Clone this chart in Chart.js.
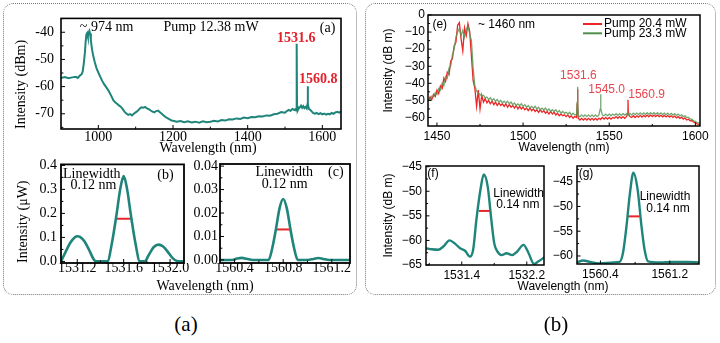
<!DOCTYPE html>
<html>
<head>
<meta charset="utf-8">
<script src="https://cdn.jsdelivr.net/npm/chart.js@4.4.1/dist/chart.umd.min.js"></script>
<style>
  html, body { margin: 0; padding: 0; background: #fff; }
  #fig { position: relative; width: 720px; height: 343px; overflow: hidden; background: #fff; }
  canvas { position: absolute; }
  .box { position: absolute; border: 1px dotted #7a7a7a; border-radius: 10px; box-sizing: border-box; }
  .lbl { position: absolute; white-space: nowrap; transform: translate(-50%, -50%); line-height: 1; color: #000; }
  .serif { font-family: "Liberation Serif", "Times New Roman", serif; }
  .sans { font-family: "Liberation Sans", Arial, sans-serif; }
</style>
</head>
<body>
<div id="fig">
  <div class="box" style="left:3px;top:3px;width:354px;height:292px"></div>
  <div class="box" style="left:365px;top:3px;width:351px;height:292px"></div>
  <canvas id="chartA"></canvas>
  <canvas id="chartB"></canvas>
  <canvas id="chartC"></canvas>
  <canvas id="chartE"></canvas>
  <canvas id="chartF"></canvas>
  <canvas id="chartG"></canvas>
  <div class="lbl serif" style="left:208px;top:148px;font-size:14px">Wavelength (nm)</div>
  <div class="lbl serif" style="left:205px;top:286px;font-size:14px">Wavelength (nm)</div>
  <div class="lbl sans" style="left:564px;top:147px;font-size:12px">Wavelength (nm)</div>
  <div class="lbl sans" style="left:563px;top:286px;font-size:12px">Wavelength (nm)</div>
  <div class="lbl serif" style="left:186px;top:324px;font-size:21px">(a)</div>
  <div class="lbl serif" style="left:556px;top:324px;font-size:21px">(b)</div>
</div>
<script>
// ---- (a) broadband spectrum, pump 12.38 mW ----
const aWave = [900, 910, 920, 930, 940, 945, 950, 955, 958, 961, 964, 966, 968, 970, 972, 974, 976, 978, 980, 983,
  986, 990, 995, 1000, 1005, 1010, 1015, 1020, 1025, 1030, 1035, 1040, 1045, 1050, 1055, 1060, 1065, 1070, 1075, 1080,
  1085, 1090, 1095, 1100, 1105, 1110, 1115, 1120, 1125, 1130, 1135, 1140, 1145, 1150, 1155, 1160, 1165, 1170, 1175, 1180,
  1185, 1190, 1195, 1200, 1210, 1220, 1230, 1240, 1250, 1260, 1270, 1280, 1290, 1300, 1310, 1320, 1330, 1340, 1350, 1360,
  1370, 1380, 1390, 1400, 1410, 1420, 1430, 1440, 1450, 1460, 1470, 1480, 1490, 1500, 1505, 1510, 1515, 1520, 1525, 1528,
  1530, 1531, 1531.6, 1532.2, 1534, 1537, 1540, 1543, 1546, 1549, 1552, 1555, 1558, 1560, 1560.8, 1561.6, 1564, 1568, 1572, 1576,
  1580, 1585, 1590, 1595, 1600, 1605, 1610, 1615, 1620, 1625, 1630, 1635, 1640, 1645, 1650];
const aPower = [-56.8, -56.5, -56.9, -56.6, -56.4, -56.8, -56.0, -55.5, -54.5, -51.5, -47.5, -43.5, -40.8, -40.3, -41.6, -40.2, -39.5, -40.5, -43.0, -46.2,
  -48.5, -50.8, -53.2, -54.8, -56.3, -57.8, -59.0, -60.0, -61.0, -62.2, -63.5, -65.0, -65.8, -66.3, -66.9, -67.4, -68.2, -69.2, -69.9, -70.4,
  -70.1, -70.6, -70.0, -69.5, -69.0, -68.2, -67.6, -67.8, -67.5, -68.0, -68.3, -68.8, -69.2, -69.5, -69.0, -68.8, -69.4, -70.0, -70.6, -71.2,
  -71.6, -72.0, -72.4, -72.6, -72.9, -72.7, -73.1, -72.8, -73.2, -72.9, -73.3, -72.8, -73.1, -72.9, -72.6, -72.8, -72.3, -72.5, -72.0, -72.1,
  -71.7, -71.9, -71.4, -71.6, -71.2, -71.3, -70.9, -71.0, -70.6, -70.7, -70.2, -70.0, -69.4, -69.6, -69.0, -68.6, -68.9, -68.2, -68.6, -68.3,
  -68.8, -67.0, -44.2, -67.0, -68.8, -68.0, -67.6, -67.0, -67.8, -67.2, -67.9, -67.5, -68.0, -66.5, -59.9, -66.5, -68.2, -68.6, -69.2, -69.8,
  -70.0, -69.7, -70.1, -69.8, -70.2, -69.9, -70.3, -70.0, -70.2, -69.7, -70.0, -69.5, -69.3, -69.6, -69.1];
const aPeaks = ['1531.6', '1560.8'];
const aTickX = [1000, 1200, 1400, 1600];
const aTickLabelX = ['1000', '1200', '1400', '1600'];
const aTickY = [-70, -60, -50, -40];
const aTickLabelY = ['-70', '-60', '-50', '-40'];

// ---- (b) zoom on the 1531.6 nm line ----
const bWave = [1531.06, 1531.1, 1531.14, 1531.18, 1531.2, 1531.22, 1531.26, 1531.3, 1531.34, 1531.36, 1531.4, 1531.44,
  1531.46, 1531.5, 1531.54, 1531.57, 1531.6, 1531.63, 1531.66, 1531.7, 1531.74, 1531.76, 1531.78, 1531.82,
  1531.86, 1531.9, 1531.94, 1531.98, 1532.02, 1532.06, 1532.12];
const bPower = [0.0, 0.04, 0.078, 0.101, 0.105, 0.103, 0.085, 0.05, 0.01, 0.0, 0.0, 0.0,
  0.0, 0.08, 0.2, 0.3, 0.355, 0.3, 0.2, 0.08, 0.0, 0.0, 0.0, 0.03,
  0.06, 0.07, 0.062, 0.04, 0.015, 0.002, 0.0];
const bPeak = 1531.6;
const bPeakPower = 0.355;
const bLinewidth = 0.12;
const bTickX = [1531.2, 1531.6, 1532.0];
const bTickLabelX = ['1531.2', '1531.6', '1532.0'];
const bTickY = [0, 0.1, 0.2, 0.3, 0.4];
const bTickLabelY = ['0.0', '0.1', '0.2', '0.3', '0.4'];

// ---- (c) zoom on the 1560.8 nm line ----
const cWave = [1560.28, 1560.38, 1560.42, 1560.46, 1560.5, 1560.55, 1560.66, 1560.68, 1560.71, 1560.74, 1560.77,
  1560.8, 1560.83, 1560.86, 1560.89, 1560.92, 1561.0, 1561.05, 1561.09, 1561.13, 1561.18, 1561.35];
const cPower = [0, 0, 0.0006, 0.0009, 0.0005, 0, 0, 0, 0.005, 0.013, 0.022,
  0.026, 0.022, 0.013, 0.005, 0, 0, 0.0004, 0.0008, 0.0004, 0, 0];
const cPeak = 1560.8;
const cPeakPower = 0.026;
const cLinewidth = 0.12;
const cTickX = [1560.4, 1560.8, 1561.2];
const cTickLabelX = ['1560.4', '1560.8', '1561.2'];
const cTickY = [0, 0.01, 0.02, 0.03, 0.04];
const cTickLabelY = ['0.00', '0.01', '0.02', '0.03', '0.04'];

// ---- (e) spectra at two pump powers ----
const eWave = [1445, 1446, 1447, 1448, 1449, 1450, 1451, 1452, 1453, 1454, 1455, 1456, 1457, 1458, 1459, 1460, 1461, 1462, 1463, 1464,
  1465, 1466, 1467, 1468, 1469, 1470, 1471, 1472, 1473, 1474, 1475, 1476, 1477, 1478, 1479, 1480, 1481, 1482, 1483, 1484,
  1485, 1486, 1487, 1488, 1489, 1490, 1491, 1492, 1493, 1494, 1495, 1496, 1497, 1498, 1499, 1500, 1501, 1502, 1503, 1504,
  1505, 1506, 1507, 1508, 1509, 1510, 1511, 1512, 1513, 1514, 1515, 1516, 1517, 1518, 1519, 1520, 1521, 1522, 1523, 1524,
  1525, 1526, 1527, 1528, 1529, 1530, 1531, 1531.4, 1531.6, 1531.8, 1532, 1533, 1534, 1535, 1536, 1537, 1538, 1539, 1540, 1541,
  1542, 1543, 1544, 1544.8, 1545, 1545.2, 1546, 1547, 1548, 1549, 1550, 1551, 1552, 1553, 1554, 1555, 1556, 1557, 1558, 1559,
  1560, 1560.7, 1560.9, 1561.1, 1562, 1563, 1564, 1565, 1566, 1567, 1568, 1569, 1570, 1571, 1572, 1573, 1574, 1575, 1576, 1577,
  1578, 1579, 1580, 1581, 1582, 1583, 1584, 1585, 1586, 1587, 1588, 1589, 1590, 1591, 1592, 1593, 1594, 1595, 1596, 1597,
  1598, 1599, 1600, 1601, 1602, 1603];
const eRed = [-50.5, -48.0, -49.5, -46.5, -47.8, -44.0, -46.0, -41.5, -43.0, -37.0, -39.0, -33.5, -35.0, -27.0, -25.5, -18.0, -16.0, -6.0, -4.5, -14.0,
  -21.0, -7.5, -12.0, -5.0, -9.5, -24.0, -38.5, -43.0, -53.5, -44.0, -55.0, -47.0, -51.0, -49.0, -51.5, -50.0, -52.0, -50.5, -52.5, -51.0,
  -53.0, -51.5, -53.0, -52.0, -53.5, -52.0, -54.0, -52.5, -54.0, -53.0, -54.5, -53.0, -55.0, -53.5, -55.0, -54.0, -55.5, -54.5, -56.0, -54.5,
  -56.0, -55.0, -56.5, -55.5, -57.0, -55.5, -57.0, -56.0, -57.5, -56.5, -58.0, -56.5, -58.0, -57.0, -58.5, -57.5, -59.0, -58.0, -59.0, -58.5,
  -59.5, -58.5, -60.0, -59.0, -60.5, -59.5, -60.0, -52.0, -43.5, -52.0, -60.5, -61.5, -60.5, -61.5, -60.5, -61.5, -60.5, -61.5, -60.5, -61.5,
  -60.5, -61.5, -60.5, -61.0, -60.5, -61.0, -60.0, -61.0, -60.0, -61.0, -60.0, -61.0, -60.0, -60.5, -59.5, -60.5, -59.5, -60.5, -59.5, -60.5,
  -59.5, -58.0, -49.7, -58.0, -59.5, -60.0, -59.0, -60.0, -59.0, -59.8, -58.8, -59.8, -58.8, -59.6, -58.6, -59.6, -58.6, -59.5, -58.6, -59.5,
  -58.6, -59.5, -58.7, -59.6, -58.8, -59.7, -58.9, -59.8, -59.0, -60.0, -59.2, -60.2, -59.5, -60.5, -59.8, -61.0, -60.3, -61.5, -61.0, -62.0,
  -61.8, -62.8, -63.0, -63.8, -64.0, -64.3];
const eGreen = [-49.0, -50.0, -47.5, -48.0, -45.5, -46.5, -43.0, -44.0, -40.0, -41.5, -36.0, -37.0, -31.0, -30.0, -23.0, -20.0, -13.0, -10.0, -8.0, -12.0,
  -9.0, -13.0, -8.5, -6.5, -11.0, -15.0, -31.0, -41.5, -44.5, -46.0, -46.5, -47.5, -47.0, -48.5, -48.0, -49.5, -48.5, -50.0, -49.0, -50.5,
  -49.5, -51.0, -50.0, -51.5, -50.5, -51.5, -50.5, -52.0, -51.0, -52.5, -51.5, -53.0, -52.0, -53.0, -52.0, -53.5, -52.5, -54.0, -53.0, -54.5,
  -53.5, -54.5, -53.5, -55.0, -54.0, -55.5, -54.5, -55.5, -54.5, -56.0, -55.0, -56.5, -55.5, -56.5, -55.5, -57.0, -56.0, -57.5, -56.5, -57.5,
  -57.0, -58.0, -57.0, -58.5, -57.5, -58.5, -58.5, -51.0, -42.0, -51.0, -59.0, -59.5, -58.5, -59.5, -58.5, -59.5, -58.5, -59.5, -58.5, -59.5,
  -58.5, -59.5, -58.5, -55.0, -46.4, -55.0, -58.5, -59.0, -58.0, -59.0, -58.0, -59.0, -58.0, -58.8, -57.8, -58.8, -57.8, -58.8, -57.8, -58.6,
  -57.8, -58.5, -57.8, -58.5, -57.6, -58.5, -57.5, -58.4, -57.4, -58.3, -57.3, -58.2, -57.3, -58.2, -57.2, -58.2, -57.2, -58.1, -57.2, -58.1,
  -57.2, -58.2, -57.3, -58.3, -57.4, -58.4, -57.5, -58.5, -57.6, -58.6, -57.8, -58.8, -58.0, -59.0, -58.4, -59.5, -59.0, -60.0, -60.0, -61.0,
  -61.0, -62.0, -62.3, -63.0, -63.2, -63.5];
const eSeries = ['Pump 20.4 mW', 'Pump 23.3 mW'];
const ePeaks = ['1531.6', '1545.0', '1560.9'];
const eTickX = [1450, 1500, 1550, 1600];
const eTickLabelX = ['1450', '1500', '1550', '1600'];
const eTickY = [-60, -50, -40, -30, -20, -10, 0];
const eTickLabelY = ['\u221260', '\u221250', '\u221240', '\u221230', '\u221220', '\u221210', '0'];

// ---- (f) line near 1531.6 nm, log scale ----
const fWave = [1530.96, 1531.03, 1531.11, 1531.17, 1531.25, 1531.32, 1531.38, 1531.44, 1531.5, 1531.54, 1531.58, 1531.63,
  1531.67, 1531.72, 1531.76, 1531.8, 1531.84, 1531.89, 1531.95, 1532.02, 1532.08, 1532.16, 1532.22, 1532.29, 1532.34, 1532.42];
const fPower = [-61.6, -61.8, -61.9, -61.3, -60.0, -60.7, -61.6, -62.1, -63.3, -61.9, -55.8, -49.7,
  -46.6, -49.1, -55.2, -60.6, -62.3, -63.0, -62.6, -63.0, -62.3, -60.9, -62.5, -64.8, -64.3, -63.4];
const fPeak = 1531.68;
const fHalfLevel = -54;
const fLinewidth = 0.14;
const fTickX = [1531.4, 1532.2];
const fTickLabelX = ['1531.4', '1532.2'];
const fTickY = [-65, -60, -55, -50, -45];
const fTickLabelY = ['\u221265', '\u221260', '\u221255', '\u221250', '\u221245'];

// ---- (g) line near 1560.9 nm, log scale ----
const gWave = [1560.13, 1560.2, 1560.28, 1560.39, 1560.55, 1560.62, 1560.66, 1560.7, 1560.74, 1560.78, 1560.83,
  1560.87, 1560.91, 1560.95, 1561.08, 1561.24, 1561.39, 1561.54];
const gPower = [-61.3, -60.9, -61.2, -61.5, -61.3, -61.2, -59.4, -54.1, -47.4, -43.2, -46.7,
  -53.4, -58.8, -61.1, -61.3, -61.2, -61.2, -61.3];
const gPeak = 1560.785;
const gHalfLevel = -52;
const gLinewidth = 0.14;
const gTickX = [1560.4, 1561.2];
const gTickLabelX = ['1560.4', '1561.2'];
const gTickY = [-60, -55, -50, -45];
const gTickLabelY = ['\u221260', '\u221255', '\u221250', '\u221245'];

// ---- styling ----
const TEAL = '#1f857b';
const RED = '#e8252b';
const RED_TEXT = '#e3222c';
const RED_TEXT_LIGHT = '#e8464e';
const SERIF = '"Liberation Serif", "Times New Roman", serif';
const SANS = '"Liberation Sans", Arial, sans-serif';

function pts(xs, ys) { return xs.map((x, i) => ({ x: x, y: ys[i] })); }
function fwhmSegment(center, width, level) {
  return [{ x: center - width / 2, y: level }, { x: center + width / 2, y: level }];
}

function inwardTicks(ctx, a, scale, horizontal, len) {
  const vals = scale.ticks.map(t => t.value);
  const marks = vals.map(v => [v, len]);
  if (vals.length > 1) {
    const step = vals[1] - vals[0];
    for (let k = -1; k < vals.length; k++) {
      const v = vals[0] + step * (k + 0.5);
      if (v > scale.min && v < scale.max) marks.push([v, len * 0.6]);
    }
  }
  for (const [v, l] of marks) {
    const p = scale.getPixelForValue(v);
    ctx.beginPath();
    if (horizontal) { ctx.moveTo(p, a.bottom); ctx.lineTo(p, a.bottom - l); }
    else { ctx.moveTo(a.left, p); ctx.lineTo(a.left + l, p); }
    ctx.stroke();
  }
}

function panelPlugin(spec) {
  return {
    id: 'panel',
    afterDatasetsDraw(chart) {
      const { ctx, chartArea: a } = chart;
      const x = chart.scales.x, y = chart.scales.y;
      ctx.save();
      ctx.strokeStyle = '#000';
      ctx.lineWidth = 1;
      inwardTicks(ctx, a, x, true, spec.tickLen);
      inwardTicks(ctx, a, y, false, spec.tickLen);
      ctx.lineWidth = spec.frame;
      ctx.strokeRect(a.left, a.top, a.right - a.left, a.bottom - a.top);
      ctx.textBaseline = 'middle';
      for (const n of spec.notes) {
        ctx.font = n.font;
        ctx.fillStyle = n.color || '#000';
        ctx.textAlign = n.align || 'center';
        ctx.fillText(n.text, x.getPixelForValue(n.x), y.getPixelForValue(n.y));
      }
      if (spec.legend) {
        const L = spec.legend;
        chart.data.datasets.forEach((ds, i) => {
          if (!ds.label) return;
          const yy = a.top + L.top + i * L.gap;
          ctx.strokeStyle = ds.legendColor || ds.borderColor;
          ctx.lineWidth = 2;
          ctx.beginPath();
          ctx.moveTo(a.right - L.lineFrom, yy);
          ctx.lineTo(a.right - L.lineTo, yy);
          ctx.stroke();
          ctx.fillStyle = '#000';
          ctx.font = L.font;
          ctx.textAlign = 'left';
          ctx.fillText(ds.label, a.right - L.textAt, yy);
        });
      }
      ctx.restore();
    }
  };
}

function buildChart(id, spec) {
  const g = spec.box;
  const W = (g.R - g.L) + g.yw + g.pr;
  const H = (g.B - g.T) + g.pt + g.xh;
  const canvas = document.getElementById(id);
  canvas.width = W; canvas.height = H;
  canvas.style.left = (g.L - g.yw) + 'px';
  canvas.style.top = (g.T - g.pt) + 'px';
  canvas.style.width = W + 'px';
  canvas.style.height = H + 'px';
  const tickFont = { family: spec.family, size: spec.fontSize };
  const titleLH = spec.fontSize * 1.2;
  const yTitle = spec.yTitle
    ? { display: true, text: spec.yTitle, color: '#000', align: spec.yTitleAlign || 'center',
        font: { family: spec.family, size: spec.fontSize },
        padding: { top: spec.yTitleX - (g.L - g.yw) - titleLH / 2, bottom: 0 } }
    : { display: false };
  return new Chart(canvas, {
    type: 'line',
    data: { datasets: spec.datasets },
    options: {
      responsive: false,
      animation: false,
      events: [],
      devicePixelRatio: 1,
      layout: { padding: { top: g.pt, right: g.pr, left: 0, bottom: 0 } },
      elements: { point: { radius: 0 } },
      plugins: { legend: { display: false }, tooltip: { enabled: false } },
      scales: {
        x: {
          type: 'linear', min: spec.xRange[0], max: spec.xRange[1], bounds: 'data',
          grid: { display: false, drawTicks: false }, border: { display: false },
          afterBuildTicks: s => { s.ticks = spec.xTicks.map(v => ({ value: v })); },
          afterFit: s => { s.height = g.xh; },
          ticks: { autoSkip: false, maxRotation: 0, minRotation: 0, padding: spec.xPad, color: '#000',
                   font: tickFont, callback: (v, i) => spec.xLabels[i] },
          title: { display: false }
        },
        y: {
          type: 'linear', min: spec.yRange[0], max: spec.yRange[1], bounds: 'data',
          grid: { display: false, drawTicks: false }, border: { display: false },
          afterBuildTicks: s => { s.ticks = spec.yTicks.map(v => ({ value: v })); },
          afterFit: s => { s.width = g.yw; },
          ticks: { autoSkip: false, padding: spec.yPad, color: '#000',
                   font: tickFont, callback: (v, i) => spec.yLabels[i] },
          title: yTitle
        }
      }
    },
    plugins: [panelPlugin(spec)]
  });
}

const serif14 = '14px ' + SERIF;
const serifBold14 = 'bold 14px ' + SERIF;
const sans12 = '12px ' + SANS;

// (a)
buildChart('chartA', {
  box: { L: 61, T: 15, R: 341, B: 129, yw: 58, xh: 22, pt: 12, pr: 14 },
  family: SERIF, fontSize: 14, xPad: 0, yPad: 7, tickLen: 4, frame: 1.6,
  xRange: [900, 1650], yRange: [-75.6, -34.9],
  xTicks: aTickX, xLabels: aTickLabelX, yTicks: aTickY, yLabels: aTickLabelY,
  yTitle: 'Intensity (dBm)', yTitleX: 21.5, yTitleAlign: 'start',
  datasets: [{ data: pts(aWave, aPower), borderColor: TEAL, borderWidth: 2, tension: 0 }],
  notes: [
    { text: '~ 974 nm', x: 1022, y: -38.2, font: serif14 },
    { text: 'Pump 12.38 mW', x: 1302, y: -38.2, font: serif14 },
    { text: '(a)', x: 1614, y: -38.6, font: serif14 },
    { text: aPeaks[0], x: 1530, y: -42.1, font: serifBold14, color: RED_TEXT },
    { text: aPeaks[1], x: 1589, y: -57.5, font: serifBold14, color: RED_TEXT }
  ]
});

// (b)
buildChart('chartB', {
  box: { L: 61, T: 164, R: 184, B: 263, yw: 58, xh: 20, pt: 12, pr: 30 },
  family: SERIF, fontSize: 14, xPad: -3, yPad: 4, tickLen: 4, frame: 1.8,
  xRange: [1531.06, 1532.12], yRange: [-0.0066, 0.404],
  xTicks: bTickX, xLabels: bTickLabelX, yTicks: bTickY, yLabels: bTickLabelY,
  yTitle: 'Intensity (\u03bcW)', yTitleX: 23, yTitleAlign: 'start',
  datasets: [
    { data: pts(bWave, bPower), borderColor: TEAL, borderWidth: 2.6, cubicInterpolationMode: 'monotone' },
    { data: fwhmSegment(bPeak, bLinewidth, bPeakPower / 2), borderColor: RED, borderWidth: 2 }
  ],
  notes: [
    { text: 'Linewidth', x: 1531.325, y: 0.361, font: serif14 },
    { text: bLinewidth.toFixed(2) + ' nm', x: 1531.34, y: 0.317, font: serif14 },
    { text: '(b)', x: 1531.96, y: 0.359, font: serif14 }
  ]
});

// (c)
buildChart('chartC', {
  box: { L: 220, T: 164, R: 350, B: 263, yw: 40, xh: 20, pt: 12, pr: 10 },
  family: SERIF, fontSize: 14, xPad: -3, yPad: 2, tickLen: 4, frame: 1.8,
  xRange: [1560.28, 1561.35], yRange: [-0.0013, 0.0409],
  xTicks: cTickX, xLabels: cTickLabelX, yTicks: cTickY, yLabels: cTickLabelY,
  datasets: [
    { data: pts(cWave, cPower), borderColor: TEAL, borderWidth: 2.6, cubicInterpolationMode: 'monotone' },
    { data: fwhmSegment(cPeak, cLinewidth, cPeakPower / 2), borderColor: RED, borderWidth: 2 }
  ],
  notes: [
    { text: 'Linewidth', x: 1560.808, y: 0.0373, font: serif14 },
    { text: cLinewidth.toFixed(2) + ' nm', x: 1560.813, y: 0.0322, font: serif14 },
    { text: '(c)', x: 1561.233, y: 0.0373, font: serif14 }
  ]
});

// (e)
buildChart('chartE', {
  box: { L: 428, T: 15, R: 700, B: 126, yw: 58, xh: 22, pt: 12, pr: 14 },
  family: SANS, fontSize: 12, xPad: 3, yPad: 3, tickLen: 3.5, frame: 1.5,
  xRange: [1444.8, 1602.7], yRange: [-65, 0],
  xTicks: eTickX, xLabels: eTickLabelX, yTicks: eTickY, yLabels: eTickLabelY,
  yTitle: 'Intensity (dB m)', yTitleX: 389,
  datasets: [
    { label: eSeries[0], data: pts(eWave, eRed), borderColor: '#ee2525', borderWidth: 1.3, tension: 0, order: 1 },
    { label: eSeries[1], data: pts(eWave, eGreen), borderColor: 'rgba(92,150,88,0.85)', legendColor: '#4f8e4c',
      borderWidth: 1.3, tension: 0, order: 0 }
  ],
  legend: { top: 9, gap: 9.3, lineFrom: 117, lineTo: 98, textAt: 96, font: sans12 },
  notes: [
    { text: '(e)', x: 1451.6, y: -5.9, font: sans12 },
    { text: '~ 1460 nm', x: 1490.4, y: -5.9, font: sans12 },
    { text: ePeaks[0], x: 1532.1, y: -35.7, font: sans12, color: RED_TEXT_LIGHT },
    { text: ePeaks[1], x: 1548.5, y: -43.9, font: sans12, color: RED_TEXT_LIGHT },
    { text: ePeaks[2], x: 1571.7, y: -46.4, font: sans12, color: RED_TEXT_LIGHT }
  ]
});

// (f)
buildChart('chartF', {
  box: { L: 426, T: 166, R: 544, B: 265, yw: 56, xh: 20, pt: 12, pr: 14 },
  family: SANS, fontSize: 12, xPad: 3, yPad: 4, tickLen: 3.5, frame: 1.5,
  xRange: [1530.96, 1532.412], yRange: [-65, -44.86],
  xTicks: fTickX, xLabels: fTickLabelX, yTicks: fTickY, yLabels: fTickLabelY,
  yTitle: 'Intensity (dB m)', yTitleX: 389,
  datasets: [
    { data: pts(fWave, fPower), borderColor: TEAL, borderWidth: 2.4, cubicInterpolationMode: 'monotone' },
    { data: fwhmSegment(fPeak, fLinewidth, fHalfLevel), borderColor: RED, borderWidth: 2 }
  ],
  notes: [
    { text: '(f)', x: 1531.046, y: -46.5, font: sans12 },
    { text: 'Linewidth', x: 1532.1, y: -50.4, font: sans12 },
    { text: fLinewidth.toFixed(2) + ' nm', x: 1532.09, y: -52.8, font: sans12 }
  ]
});

// (g)
buildChart('chartG', {
  box: { L: 577, T: 166, R: 699, B: 264, yw: 40, xh: 20, pt: 12, pr: 14 },
  family: SANS, fontSize: 12, xPad: 3, yPad: 4, tickLen: 3.5, frame: 1.5,
  xRange: [1560.13, 1561.537], yRange: [-61.62, -41.83],
  xTicks: gTickX, xLabels: gTickLabelX, yTicks: gTickY, yLabels: gTickLabelY,
  datasets: [
    { data: pts(gWave, gPower), borderColor: TEAL, borderWidth: 2.4, cubicInterpolationMode: 'monotone' },
    { data: fwhmSegment(gPeak, gLinewidth, gHalfLevel), borderColor: RED, borderWidth: 2 }
  ],
  notes: [
    { text: '(g)', x: 1560.234, y: -43.3, font: sans12 },
    { text: 'Linewidth', x: 1561.145, y: -48.0, font: sans12 },
    { text: gLinewidth.toFixed(2) + ' nm', x: 1561.18, y: -50.4, font: sans12 }
  ]
});
</script>
</body>
</html>
